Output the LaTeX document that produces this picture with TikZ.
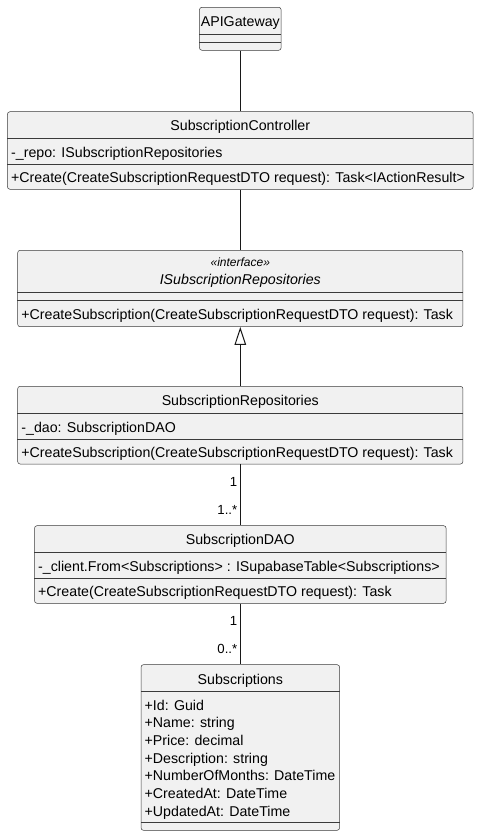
\documentclass[tikz,border=0pt]{standalone}
\usepackage{fontspec}
\setmainfont{Liberation Sans}
\usetikzlibrary{arrows.meta, positioning, calc}
\definecolor{umlfill}{HTML}{F1F1F1}
\definecolor{umlline}{HTML}{181818}

\begin{document}
\begin{tikzpicture}[x=1pt, y=-1pt,
    class/.style={draw=umlline!85, fill=umlfill, line width=0.5pt, rounded corners=2.5pt, inner sep=0pt},
    classtext/.style={font=\fontsize{14.2}{16}\selectfont, inner sep=0pt, text height=10pt, text depth=0pt},
    member/.style={classtext, anchor=west},
    stereo/.style={classtext, font=\fontsize{12}{14}\selectfont\itshape},
    sep/.style={draw=umlline!85, line width=0.5pt},
    link/.style={draw=umlline, line width=1pt},
    mult/.style={font=\fontsize{13.2}{15}\selectfont, anchor=east, inner sep=0pt, xshift=-2.5pt}]
                \useasboundingbox (0,0) rectangle (479,836);
                % class boxes
                \node[class, minimum width=81.7pt, minimum height=43pt] (api) at (240.3,28.8) {};
                \node[class, minimum width=465.7pt, minimum height=77.6pt] (ctl) at (240.3,150.5) {};
                \node[class, minimum width=445.3pt, minimum height=76.4pt] (irepo) at (240.3,288.5) {};
                \node[class, minimum width=445.3pt, minimum height=77.7pt] (repo) at (240.3,425.15) {};
                \node[class, minimum width=411.6pt, minimum height=77.6pt] (dao) at (240.3,564.5) {};
                \node[class, minimum width=198.6pt, minimum height=165.6pt] (subs) at (240.3,747.5) {};
                % compartments
                \foreach \cls/\off in {api/27.4, api/35, ctl/26.3, ctl/52.6, irepo/42, irepo/50,
                                       repo/27, repo/52.7, dao/26.6, dao/52.6, subs/27, subs/157.6}
                        \draw[sep] ([yshift=-\off pt]\cls.north west) -- ([yshift=-\off pt]\cls.north east);
                % texts
                \node[classtext] (api_name) at (240.3,21.8) {APIGateway};
                \node[classtext] (ctl_name) at (240.3,125.6) {SubscriptionController};
                \node[member] (ctl_attr) at (11,152) {-\_repo: ISubscriptionRepositories};
                \node[member] (ctl_op) at (11,177.6) {+Create(CreateSubscriptionRequestDTO request): Task<IActionResult>};
                \node[stereo] (irepo_st) at (240.3,261.5) {«interface»};
                \node[classtext, font=\fontsize{14.2}{16}\selectfont\itshape] (irepo_name) at (240.3,279.5) {ISubscriptionRepositories};
                \node[member] (irepo_op) at (21.2,314.3) {+CreateSubscription(CreateSubscriptionRequestDTO request): Task};
                \node[classtext] (repo_name) at (240.3,400.6) {SubscriptionRepositories};
                \node[member] (repo_attr) at (21.2,427) {-\_dao: SubscriptionDAO};
                \node[member] (repo_op) at (21.2,452.3) {+CreateSubscription(CreateSubscriptionRequestDTO request): Task};
                \node[classtext] (dao_name) at (240.3,539.8) {SubscriptionDAO};
                \node[member] (dao_attr) at (38,566.1) {-\_client.From<Subscriptions> : ISupabaseTable<Subscriptions>};
                \node[member] (dao_op) at (38,591.6) {+Create(CreateSubscriptionRequestDTO request): Task};
                \node[classtext] (subs_name) at (240.3,679) {Subscriptions};
                \foreach \attr [count=\i from 0] in {+Id: Guid, +Name: string, +Price: decimal,
                                +Description: string, +NumberOfMonths: DateTime,
                                +CreatedAt: DateTime, +UpdatedAt: DateTime}
                        \node[member] (subs_attr\i) at (144.5,705+\i*17.67) {\attr};
                % relations
                \path[link]
                (api.south) edge (ctl.north)
                (ctl.south) edge (irepo.north)
                (repo.north) edge[-{Triangle[open, length=18pt, width=11.6pt]}] (irepo.south);
                \draw[link] (repo.south) -- (dao.north)
                        node[mult, pos=0.29] (repo_m) {1}
                        node[mult, pos=0.745] (dao_m) {1..*};
                \draw[link] (dao.south) -- (subs.north)
                        node[mult, pos=0.28] (dao_m2) {1}
                        node[mult, pos=0.74] (subs_m) {0..*};
        \end{tikzpicture}
\end{document}
